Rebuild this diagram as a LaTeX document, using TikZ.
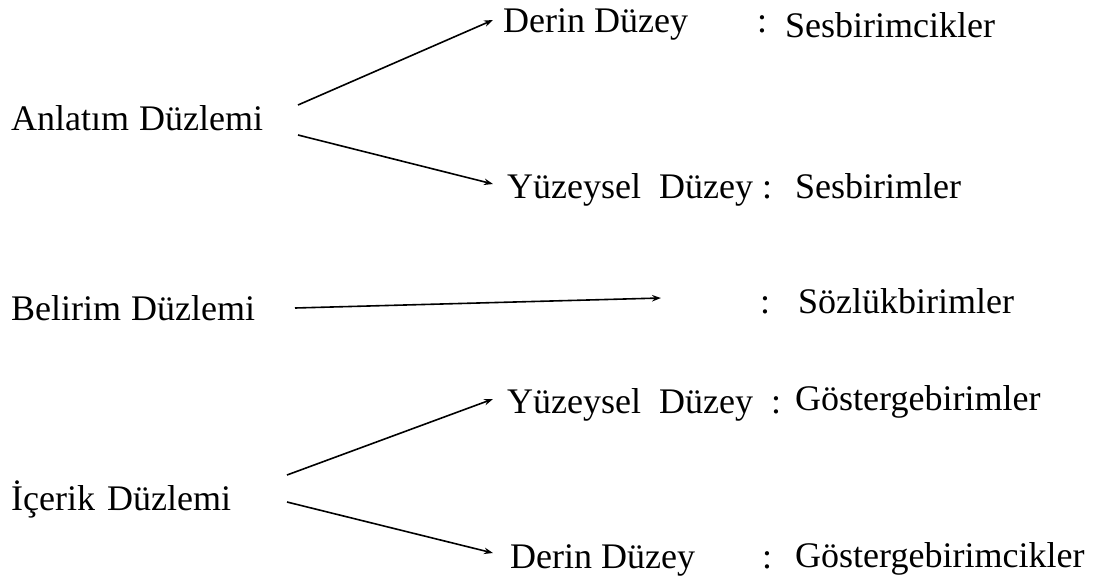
\documentclass[tikz,border=0pt]{standalone}
\usepackage{fontspec}
\setmainfont{Liberation Serif}
\usetikzlibrary{arrows.meta,calc}
\tikzset{
  lbl/.style={anchor=base west,inner sep=0pt,font=\fontsize{36}{43}\selectfont},
  arr/.style={line width=1.6pt,-{Stealth[length=9pt,width=6.5pt]}}
}
\begin{document}
\begin{tikzpicture}[x=1pt,y=-1pt]
\useasboundingbox (0,0) rectangle (1098,579);
% left labels
\node[lbl] (anl) at (11,130) {Anlatım\hspace{10pt}Düzlemi};
\node[lbl] (bel) at (11,320) {Belirim\hspace{10pt}Düzlemi};
\node[lbl] (ice) at (11,510) {İçerik\hspace{12pt}Düzlemi};
% row 1
\node[lbl] (d1) at (503,32) {Derin Düzey};
\node[lbl] (c1) at (757,32) {:};
\node[lbl] (s1) at (785,37) {Sesbirimcikler};
% row 2
\node[lbl] (y1) at (507,198) {Yüzeysel\ \ Düzey};
\node[lbl] (c2) at (762,198) {:};
\node[lbl] (s2) at (795,198) {Sesbirimler};
% row 3
\node[lbl] (c3) at (760,313) {:};
\node[lbl] (s3) at (798,313) {Sözlükbirimler};
% row 4
\node[lbl] (y2) at (507,413) {Yüzeysel\ \ Düzey};
\node[lbl] (c4) at (771,413) {:};
\node[lbl] (s4) at (795,410) {Göstergebirimler};
% row 5
\node[lbl] (d2) at (510,568) {Derin Düzey};
\node[lbl] (c5) at (762,568) {:};
\node[lbl] (s5) at (795,567) {Göstergebirimcikler};
% connector ends
\coordinate (a1) at (298,105);
\coordinate (a2) at (298,135);
\coordinate (b1) at (295,308);
\coordinate (b2) at (661,298);
\coordinate (i1) at (287,475);
\coordinate (i2) at (287,502);
% connectors
\draw[arr] (a1) -- ($(d1.base west)+(-10,-12)$);
\draw[arr] (a2) -- ($(y1.base west)+(-14,-14)$);
\draw[arr] (b1) -- (b2);
\draw[arr] (i1) -- ($(y2.base west)+(-14,-14)$);
\draw[arr] (i2) -- ($(d2.base west)+(-17,-15)$);
\end{tikzpicture}
\end{document}
